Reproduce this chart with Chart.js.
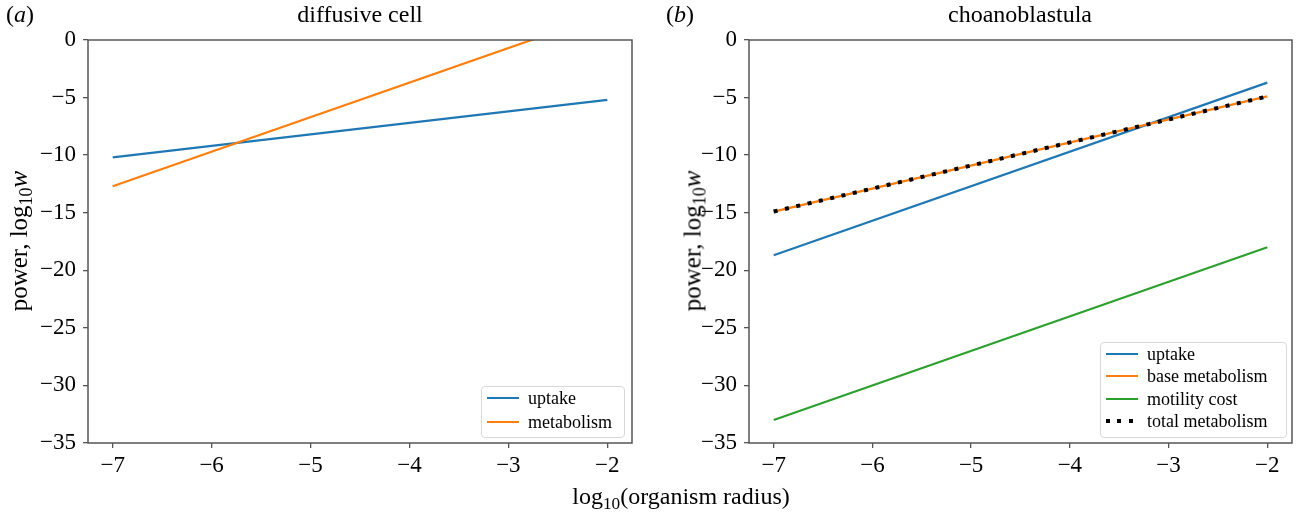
<!DOCTYPE html>
<html>
<head>
<meta charset="utf-8">
<script src="https://cdn.jsdelivr.net/npm/chart.js@4/dist/chart.umd.min.js"></script>
<style>
  body { margin: 0; background: #fff; font-family: "Liberation Serif", "DejaVu Serif", serif; }
  #wrap { position: relative; width: 1296px; height: 515px; overflow: hidden; }
  canvas { position: absolute; top: 0; }
  .txt { position: absolute; white-space: nowrap; color: #000; font-size: 24px; line-height: 1; }
  .ylab { transform: translate(-50%, -50%) rotate(-90deg); font-size: 25px; }
  .ctr { transform: translate(-50%, -50%); }
  sub { font-size: 0.72em; vertical-align: -0.3em; line-height: 0; }
  .legend { position: absolute; background: rgba(255,255,255,0.85); border: 1px solid #d8d8d8; border-radius: 4px; }
  .row { position: absolute; left: 0; font-size: 18px; line-height: 1; white-space: nowrap; }
  .sample { position: absolute; left: 5px; width: 32px; height: 2px; }
  .row span.t { position: absolute; left: 46px; transform: translateY(-50%); }
</style>
</head>
<body>
<div id="wrap">
  <canvas id="c1" width="648" height="515" style="left:0px"></canvas>
  <canvas id="c2" width="635" height="515" style="left:661px"></canvas>

  <div class="txt" style="left:6px; top:2px;">(<i>a</i>)</div>
  <div class="txt" style="left:666px; top:2px;">(<i>b</i>)</div>
  <div class="txt ctr" style="left:360px; top:14px;">diffusive cell</div>
  <div class="txt ctr" style="left:1020px; top:14px;">choanoblastula</div>
  <div class="txt ylab" style="left:18px; top:241px;">power, log<sub>10</sub><i>w</i></div>
  <div class="txt ylab" style="left:692px; top:241px;">power, log<sub>10</sub><i>w</i></div>
  <div class="txt ctr" style="left:681px; top:496px;">log<sub>10</sub>(organism radius)</div>

  <div class="legend" id="leg1" style="left:481px; top:386px; width:142px; height:50px;"></div>
  <div class="legend" id="leg2" style="left:1100px; top:342px; width:185px; height:94px;"></div>
</div>
<script>
// x positions (log10 organism radius) of the line ends
const xs = [-7, -2];
const xTicks = [-7, -6, -5, -4, -3, -2];
const yTicks = [0, -5, -10, -15, -20, -25, -30, -35];

// panel (a): diffusive cell
const diffNames = ['uptake', 'metabolism'];
const diffUptake = [-10.2, -5.2];
const diffMetabolism = [-12.7, 2.3];

// panel (b): choanoblastula
const choaNames = ['uptake', 'base metabolism', 'motility cost', 'total metabolism'];
const choaUptake = [-18.7, -3.7];
const choaBase = [-14.9, -4.9];
const choaMotility = [-33.0, -18.0];
const choaTotal = [-14.9, -4.9];

const blue = '#1f77b4', orange = '#ff7f0e', green = '#2ca02c', black = '#000000';
const axisColor = '#555555';
const fontFamily = '"Liberation Serif", "DejaVu Serif", serif';

function fmt(v) {
  return v < 0 ? '\u2212' + Math.abs(v) : String(v);
}

const frame = {
  id: 'frame',
  afterDatasetsDraw(chart) {
    const a = chart.chartArea;
    const c = chart.ctx;
    c.save();
    c.strokeStyle = axisColor;
    c.lineWidth = 1.5;
    c.strokeRect(a.left, a.top, a.right - a.left, a.bottom - a.top);
    c.restore();
  }
};

function makeSeries(names, arrays, colors, dashed) {
  return names.map((name, i) => ({
    label: name,
    data: xs.map((x, j) => ({ x: x, y: arrays[i][j] })),
    borderColor: colors[i],
    backgroundColor: colors[i],
    borderWidth: dashed[i] ? 4 : 2.2,
    borderDash: dashed[i] ? [4, 7.6] : [],
    pointRadius: 0,
    fill: false,
    tension: 0,
    clip: 0,
    order: names.length - i
  }));
}

function makeChart(id, datasets, padRight) {
  return new Chart(document.getElementById(id).getContext('2d'), {
    type: 'line',
    data: { datasets: datasets },
    options: {
      responsive: false,
      animation: false,
      layout: { padding: { top: 40, right: padRight, bottom: 42, left: 0 } },
      plugins: { legend: { display: false }, tooltip: { enabled: false } },
      scales: {
        x: {
          type: 'linear',
          min: -7.25,
          max: -1.75,
          afterBuildTicks: s => { s.ticks = xTicks.map(v => ({ value: v })); },
          afterFit: s => { s.height = 30; },
          border: { display: false },
          grid: { drawOnChartArea: false, drawTicks: true, tickLength: 5, color: axisColor, lineWidth: 1.3 },
          ticks: { color: '#000', padding: 4, maxRotation: 0, font: { family: fontFamily, size: 23 }, callback: v => fmt(v) }
        },
        y: {
          type: 'linear',
          min: -35,
          max: 0,
          afterBuildTicks: s => { s.ticks = yTicks.map(v => ({ value: v })); },
          afterFit: s => { s.width = 88; },
          border: { display: false },
          grid: { drawOnChartArea: false, drawTicks: true, tickLength: 5, color: axisColor, lineWidth: 1.3 },
          ticks: { color: '#000', padding: 7, font: { family: fontFamily, size: 23 }, callback: v => fmt(v) }
        }
      }
    },
    plugins: [frame]
  });
}

const diffColors = [blue, orange];
const choaColors = [blue, orange, green, black];
const choaDashed = [false, false, false, true];

makeChart('c1', makeSeries(diffNames, [diffUptake, diffMetabolism], diffColors, [false, false]), 16);
makeChart('c2', makeSeries(choaNames, [choaUptake, choaBase, choaMotility, choaTotal], choaColors, choaDashed), 4);

function buildLegend(elId, names, colors, dashed, firstY, step) {
  const el = document.getElementById(elId);
  names.forEach((name, i) => {
    const row = document.createElement('div');
    row.className = 'row';
    row.style.top = (firstY + i * step) + 'px';
    const sample = document.createElement('div');
    sample.className = 'sample';
    if (dashed[i]) {
      sample.style.height = '4px';
      sample.style.top = '-2px';
      sample.style.background = 'repeating-linear-gradient(90deg, #000 0 4px, transparent 4px 11.5px)';
    } else {
      sample.style.top = '-1px';
      sample.style.background = colors[i];
    }
    const t = document.createElement('span');
    t.className = 't';
    t.textContent = name;
    row.appendChild(sample);
    row.appendChild(t);
    el.appendChild(row);
  });
}

buildLegend('leg1', diffNames, diffColors, [false, false], 11, 24);
buildLegend('leg2', choaNames, choaColors, choaDashed, 11, 22.3);
</script>
</body>
</html>
